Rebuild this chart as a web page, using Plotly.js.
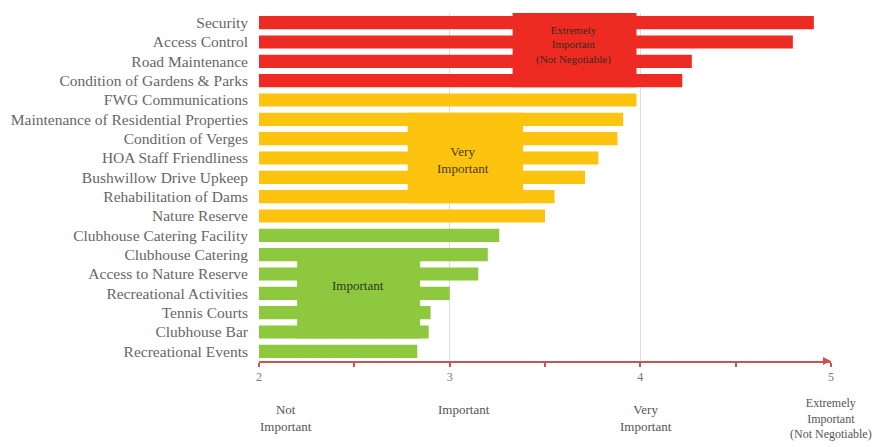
<!DOCTYPE html>
<html>
<head>
<meta charset="utf-8">
<script src="https://cdn.plot.ly/plotly-3.0.1.min.js"></script>
<style>html,body{margin:0;padding:0;background:#fff;}#chart{width:883px;height:447px;}</style>
</head>
<body>
<div id="chart"></div>
<script>
// Data
const categories = [
  "Security", "Access Control", "Road Maintenance", "Condition of Gardens & Parks",
  "FWG Communications", "Maintenance of Residential Properties", "Condition of Verges",
  "HOA Staff Friendliness", "Bushwillow Drive Upkeep", "Rehabilitation of Dams",
  "Nature Reserve", "Clubhouse Catering Facility", "Clubhouse Catering",
  "Access to Nature Reserve", "Recreational Activities", "Tennis Courts",
  "Clubhouse Bar", "Recreational Events"
];
const scores = [4.91, 4.80, 4.27, 4.22, 3.98, 3.91, 3.88, 3.78, 3.71, 3.55, 3.50, 3.26, 3.20, 3.15, 3.00, 2.90, 2.89, 2.83];
const groups = ["extreme","extreme","extreme","extreme","very","very","very","very","very","very","very","imp","imp","imp","imp","imp","imp","imp"];
const groupColors = {extreme: "#ee2b23", very: "#fcc30f", imp: "#8dc83f"};
const scaleTickVals = [2, 3, 4, 5];
const scaleTickText = ["2", "3", "4", "5"];
const scaleLabels = ["Not<br>Important", "Important", "Very<br>Important", "Extremely<br>Important<br>(Not Negotiable)"];
const boxLabels = ["Extremely<br>Important<br>(Not Negotiable)", "Very<br>Important", "Important"];

const serif = "Liberation Serif, Times New Roman, serif";
const idx = c => categories.indexOf(c);
const h = 0.34;
const xMin = 2, xMax = 5;

const trace = {
  type: "bar",
  orientation: "h",
  y: categories,
  x: scores,
  base: 0,
  marker: {color: groups.map(g => groupColors[g]), line: {width: 0}},
  hoverinfo: "x+y"
};

const shapes = [
  {type: "rect", xref: "x", yref: "y", x0: 3.33, x1: 3.98, y0: idx("Security") - 0.5, y1: idx("Condition of Gardens & Parks") + h,
   fillcolor: groupColors.extreme, line: {width: 0}, layer: "above"},
  {type: "rect", xref: "x", yref: "y", x0: 2.78, x1: 3.385, y0: idx("Maintenance of Residential Properties") - h, y1: idx("Rehabilitation of Dams") + h,
   fillcolor: groupColors.very, line: {width: 0}, layer: "above"},
  {type: "rect", xref: "x", yref: "y", x0: 2.2, x1: 2.845, y0: idx("Clubhouse Catering") - h, y1: idx("Clubhouse Bar") + h,
   fillcolor: groupColors.imp, line: {width: 0}, layer: "above"}
];

const annotations = [
  {xref: "x", yref: "y", x: 3.65, y: 1.15, text: boxLabels[0], showarrow: false, font: {family: serif, size: 11, color: "#3a2a1a"}},
  {xref: "x", yref: "y", x: 3.07, y: 7.1, text: boxLabels[1], showarrow: false, font: {family: serif, size: 13, color: "#4a3a1a"}},
  {xref: "x", yref: "y", x: 2.52, y: 13.6, text: boxLabels[2], showarrow: false, font: {family: serif, size: 13, color: "#2f3a1a"}}
];
const labelX = [2.14, 3.075, 4.03, 5.0];
const labelY = [-0.112, -0.112, -0.112, -0.095];
const labelSize = [13, 13, 13, 12];
scaleLabels.forEach((t, i) => {
  annotations.push({xref: "paper", yref: "paper", x: (labelX[i] - xMin) / (xMax - xMin), y: labelY[i], yanchor: "top", xanchor: "center",
    text: t, showarrow: false, align: "center", font: {family: serif, size: labelSize[i], color: "#555"}});
});
// arrow head at end of axis
annotations.push({xref: "x", yref: "paper", x: 5.0, y: 0, ax: 4.96, ay: 0, axref: "x", ayref: "paper",
  text: "", showarrow: true, arrowhead: 2, arrowsize: 0.8, arrowwidth: 2, arrowcolor: "#c8554f"});

const layout = {
  width: 883, height: 447,
  margin: {l: 259, r: 52, t: 13, b: 86},
  paper_bgcolor: "#fff", plot_bgcolor: "#fff",
  showlegend: false,
  bargap: 0.32,
  font: {family: serif, color: "#555"},
  xaxis: {
    range: [xMin, xMax], tickvals: scaleTickVals, ticktext: scaleTickText,
    showgrid: true, gridcolor: "#dcdcdc", gridwidth: 1,
    zeroline: false, showline: true, linecolor: "#c8554f", linewidth: 2,
    ticks: "outside", ticklen: 4, tickwidth: 2, tickcolor: "#c8554f",
    minor: {dtick: 0.5, tick0: 2, ticks: "outside", ticklen: 4, tickwidth: 2, tickcolor: "#c8554f", showgrid: false},
    tickfont: {family: serif, size: 12, color: "#777"}, fixedrange: true
  },
  yaxis: {
    type: "category", autorange: "reversed", showgrid: false, zeroline: false, showline: false,
    ticks: "", ticklabelstandoff: 10,
    tickfont: {family: serif, size: 15.5, color: "#666"}, fixedrange: true
  },
  shapes: shapes,
  annotations: annotations
};

Plotly.newPlot("chart", [trace], layout, {displayModeBar: false, staticPlot: true});
</script>
</body>
</html>
